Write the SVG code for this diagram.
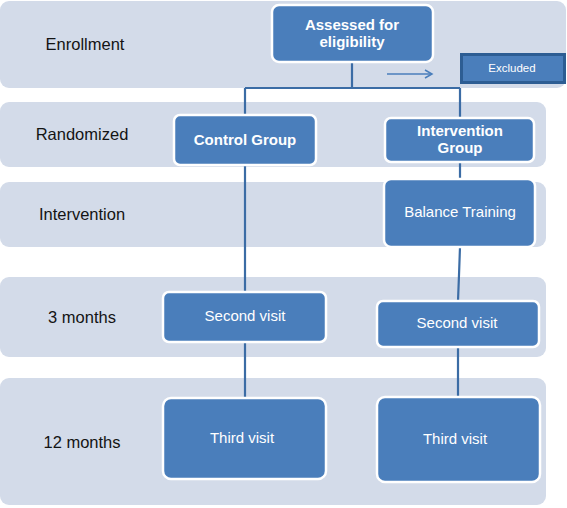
<svg xmlns="http://www.w3.org/2000/svg" width="567" height="508" viewBox="0 0 567 508">
<style>
.band{fill:#d3dbe9;}
.lbl{font-family:"Liberation Sans",Arial,sans-serif;font-size:16.5px;fill:#141414;text-anchor:middle;}
.box{fill:#4a7ebb;stroke:#ffffff;stroke-width:2.5;}
.bt{font-family:"Liberation Sans",Arial,sans-serif;font-size:15px;fill:#ffffff;text-anchor:middle;}
.bold{font-weight:bold;}
.conn{stroke:#3b6ca5;stroke-width:2.2;fill:none;}
</style>
<defs>
<marker id="arr" markerWidth="10" markerHeight="10" refX="8" refY="5" orient="auto" markerUnits="userSpaceOnUse">
<path d="M1,1 L8,5 L1,9" fill="none" stroke="#4a7ebb" stroke-width="1.5"/>
</marker>
</defs>
<g id="bands">
<rect class="band" x="0" y="1" width="566" height="87" rx="9"/>
<rect class="band" x="0" y="102" width="546" height="65" rx="9"/>
<rect class="band" x="0" y="182" width="546" height="65" rx="9"/>
<rect class="band" x="0" y="277" width="546" height="80" rx="9"/>
<rect class="band" x="0" y="378" width="546" height="127" rx="9"/>
</g>
<g id="labels">
<text class="lbl" x="85" y="50">Enrollment</text>
<text class="lbl" x="82" y="140">Randomized</text>
<text class="lbl" x="82" y="220">Intervention</text>
<text class="lbl" x="82" y="323">3 months</text>
<text class="lbl" x="82" y="448">12 months</text>
</g>
<g id="connectors">
<path class="conn" d="M352,62 V88"/>
<path class="conn" d="M245,88 H460"/>
<path class="conn" d="M245,88 V115"/>
<path class="conn" d="M460,88 V118"/>
<path class="conn" d="M245,165 V292"/>
<path class="conn" d="M460,162 V179"/>
<path class="conn" d="M460,247 L459,275 L458,301"/>
<path class="conn" d="M245,342 V398"/>
<path class="conn" d="M458,347 V397"/>
<path d="M387,74 H432" stroke="#4a7ebb" stroke-width="1.5" fill="none" marker-end="url(#arr)"/>
</g>
<g id="assessed">
<rect class="box" x="272" y="5" width="161" height="57" rx="7"/>
<text class="bt bold" x="352" y="30">Assessed for</text>
<text class="bt bold" x="352" y="47">eligibility</text>
</g>
<g id="excluded">
<rect x="461.5" y="54.5" width="103" height="28" fill="#4a7ebb" stroke="#2d5d93" stroke-width="3"/>
<text x="512" y="72" font-family="'Liberation Sans',Arial,sans-serif" font-size="11.5" fill="#ffffff" text-anchor="middle">Excluded</text>
</g>
<g id="control">
<rect class="box" x="174" y="115" width="142" height="50" rx="6"/>
<text class="bt bold" x="245" y="145">Control Group</text>
</g>
<g id="intervention-group">
<rect class="box" x="385" y="118" width="149" height="44" rx="6"/>
<text class="bt bold" x="460" y="136">Intervention</text>
<text class="bt bold" x="460" y="153">Group</text>
</g>
<g id="balance">
<rect class="box" x="384" y="179" width="151" height="68" rx="7"/>
<text class="bt" x="460" y="217">Balance Training</text>
</g>
<g id="second-control">
<rect class="box" x="163" y="292" width="163" height="50" rx="6"/>
<text class="bt" x="245" y="321">Second visit</text>
</g>
<g id="second-intervention">
<rect class="box" x="377" y="301" width="162" height="46" rx="6"/>
<text class="bt" x="457" y="328">Second visit</text>
</g>
<g id="third-control">
<rect class="box" x="163" y="398" width="163" height="81" rx="8"/>
<text class="bt" x="242" y="443">Third visit</text>
</g>
<g id="third-intervention">
<rect class="box" x="377" y="397" width="163" height="85" rx="8"/>
<text class="bt" x="455" y="444">Third visit</text>
</g>
</svg>
